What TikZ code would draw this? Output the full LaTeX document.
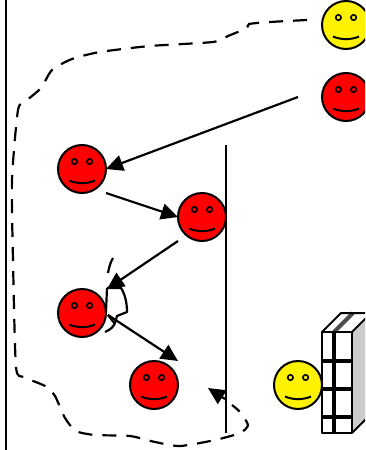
\documentclass[tikz,border=0pt]{standalone}
\usetikzlibrary{arrows.meta}
\tikzset{
  face/.style={circle,draw=black,line width=2pt,minimum size=48pt,inner sep=0pt,outer sep=0pt},
  yface/.style={face,fill=yellow},
  rface/.style={face,fill=red},
  line/.style={line width=2.2pt,draw=black},
  arr/.style={line,-{Triangle[length=17pt,width=16pt]}},
  dashline/.style={line width=2.2pt,draw=black,dash pattern=on 14pt off 10pt},
  featur/.style={line width=1.6pt,draw=black},
  gridline/.style={line width=4.2pt,draw=black},
  boxline/.style={line width=2pt,draw=black,line join=round}
}
\newcommand{\smileface}[1]{%
  \begin{scope}[shift={(#1)}]
  \draw[featur] (-7.6,-7.5) circle (2.7pt);
  \draw[featur] (7.6,-7.5) circle (2.7pt);
  \draw[line width=2pt] (-13,11.5) .. controls (-5,15) and (5,15) .. (13,11.5);
  \end{scope}
}
\begin{document}
\begin{tikzpicture}[x=1pt,y=-1pt]
\useasboundingbox (0,0) rectangle (365,450);
\fill[white] (0,0) rectangle (365,450);
\clip (0,0) rectangle (365,450);
% frame line
\coordinate (ft) at (6,0);
\coordinate (fb) at (6,450);
\draw[line] (ft) -- (fb);
% building
\fill[white] (322,332) -- (341,313) -- (371,313) -- (352,332) -- cycle;
\fill[white] (322,332) rectangle (352,433);
\fill[black!20] (352,332) -- (371,313) -- (371,414) -- (352,433) -- cycle;
\draw[gridline,draw=black!70] (334,332) -- (353,313);
\draw[gridline] (334,332) -- (334,433);
\draw[gridline] (322,361) -- (352,361);
\draw[gridline] (322,389) -- (352,389);
\draw[gridline] (322,417) -- (352,417);
\draw[boxline] (322,332) rectangle (352,433);
\draw[boxline] (322,332) -- (341,313) -- (371,313) -- (352,332);
\draw[boxline] (352,433) -- (371,414);
% faces
\node[yface] (y1) at (346,25) {};
\node[rface] (r1) at (346,97) {};
\node[rface] (r2) at (82,169) {};
\node[rface] (r3) at (202,217) {};
\node[rface] (r4) at (82,313) {};
\node[rface] (r5) at (154,385) {};
\node[yface] (y2) at (298,385) {};
\foreach \n in {y1,r1,r2,r3,r4,r5,y2}{\smileface{\n}}
% wall
\coordinate (wt) at (226,145);
\coordinate (wb) at (226,433);
\draw[line] (wt) -- (wb);
% arrows
\coordinate (a1) at (298,97);
\coordinate (a2) at (106,193);
\coordinate (a3) at (178,241);
\coordinate (a3e) at (107,289);
\coordinate (a4) at (108,315);
\coordinate (a4e) at (178,361);
\draw[arr] (a1) -- (r2.east);
\draw[arr] (a2) -- (r3.west);
\draw[arr] (a3) -- (a3e);
\draw[arr] (a4) -- (a4e);
% dashed boundary
\coordinate (de) at (208,388);
\draw[dashline] plot[smooth,tension=0.4] coordinates {(307,20) (270,22) (249,24) (247,28) (228,36) (213,42) (150,46) (100,52) (72,59) (52,70) (41,88) (26,101) (18,110) (12,180) (13,260) (16,367) (24,377) (45,386) (55,396) (65,418) (76,431) (95,435) (130,436) (155,442) (180,446) (215,440) (240,433) (248,425) (240,412) (232,405)};
\draw[line,-{Triangle[length=17pt,width=16pt]}] (225,399) -- (de);
% squiggle
\coordinate (q1) at (113,258);
\coordinate (q2) at (108,273);
\draw[line] (q1) .. controls (110,263) and (109,268) .. (q2);
\coordinate (q3) at (107,288);
\draw[line,line join=round] (q3) -- (106,312);
\draw[line,line join=round] (q3) -- (121,288) .. controls (125,294) and (127,303) .. (127,312) -- (117,316) .. controls (115,322) and (116,327) .. (105,332);
\draw[line] (108,315) -- (115,324);
\end{tikzpicture}
\end{document}
